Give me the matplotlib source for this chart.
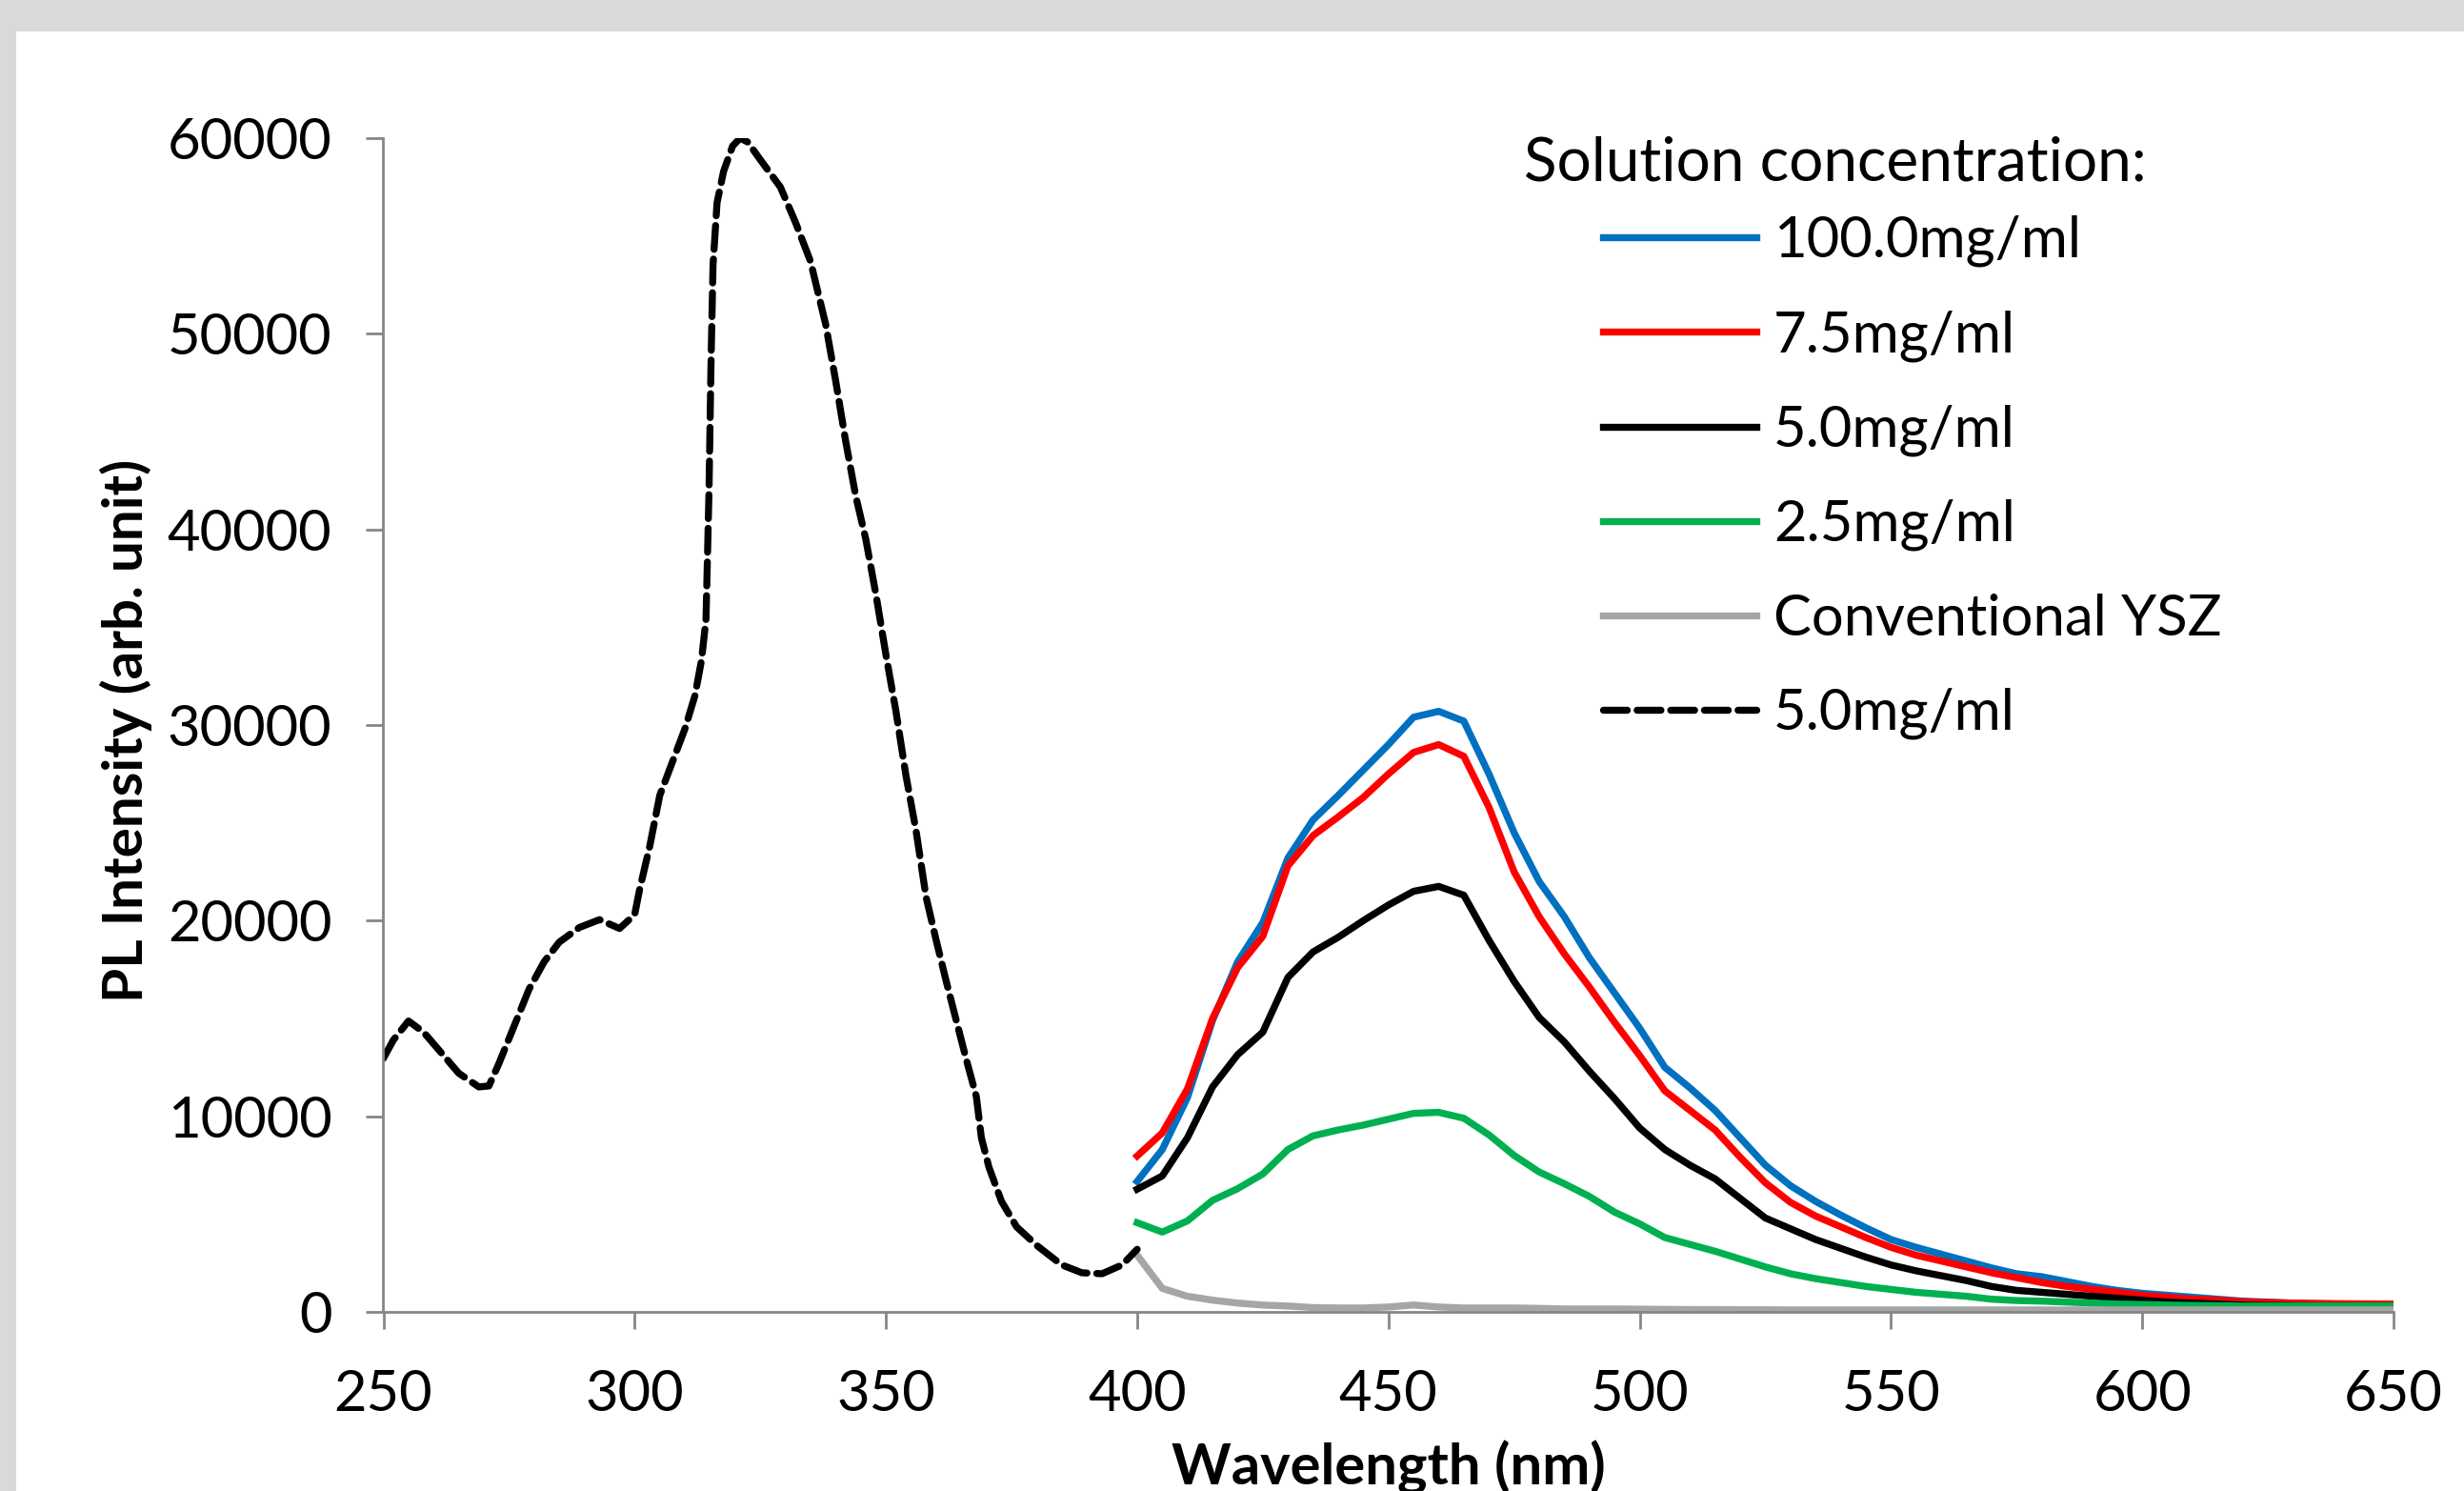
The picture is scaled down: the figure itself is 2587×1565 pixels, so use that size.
import matplotlib
matplotlib.use("Agg")
import matplotlib.pyplot as plt
from matplotlib.patches import Rectangle

plt.rcParams['font.family'] = ['Lato', 'DejaVu Sans']

# excitation spectrum (dashed)
ex_wl = [250, 252, 255, 258, 261, 265, 269, 271, 273, 276, 279, 282, 285, 289, 293, 297,
         300, 301, 303, 305, 307.5, 310, 312, 313.3, 314.2, 314.8, 315.2, 315.6, 316.4,
         317.7, 319.5, 321, 322.5, 325, 329, 332, 335, 338, 340, 342, 344, 346, 348, 350,
         352, 354, 356, 358, 360, 362, 364, 366, 368, 369, 370.5, 373, 376, 380, 385, 389,
         393, 397, 400]
ex_int = [12960, 13900, 14870, 14300, 13400, 12200, 11500, 11550, 12700, 14600, 16500,
          17900, 18900, 19650, 20050, 19600, 20300, 21600, 23800, 26400, 28100, 29800,
          31500, 33300, 35400, 42000, 48500, 53500, 56700, 58300, 59600, 60000, 59800,
          58900, 57500, 55700, 53700, 50500, 47600, 44500, 41700, 39500, 36700, 33600,
          30700, 27400, 24600, 21200, 19000, 16900, 14900, 12900, 11000, 8900, 7400, 5650,
          4350, 3400, 2400, 2000, 1950, 2400, 3200]

# emission spectra, 400-650 nm every 5 nm
em_wl = list(range(400, 655, 5))
c100 = [6670, 8300, 10950, 14900, 17900, 19900, 23200, 25150, 26400, 27700, 29000, 30400,
        30700, 30200, 27500, 24500, 22000, 20200, 18100, 16300, 14500, 12500, 11450, 10300,
        8900, 7500, 6450, 5650, 4950, 4300, 3700, 3300, 2950, 2600, 2250, 1950, 1800, 1550,
        1300, 1100, 950, 850, 750, 650, 550, 500, 450, 420, 400, 380, 380]
c75 = [7970, 9150, 11400, 15000, 17600, 19200, 22800, 24350, 25300, 26300, 27500, 28600,
       29000, 28400, 25800, 22500, 20200, 18300, 16600, 14800, 13100, 11300, 10300, 9300,
       7900, 6600, 5600, 4900, 4350, 3800, 3300, 2900, 2600, 2300, 2000, 1750, 1500, 1300,
       1150, 1000, 850, 750, 650, 600, 520, 480, 450, 430, 420, 410, 400]
c50 = [6270, 6950, 8900, 11500, 13150, 14300, 17100, 18400, 19150, 20000, 20800, 21500,
       21750, 21300, 19000, 16900, 15050, 13800, 12300, 10900, 9400, 8300, 7500, 6800,
       5800, 4800, 4250, 3700, 3250, 2800, 2400, 2100, 1850, 1600, 1300, 1100, 1000, 900,
       800, 700, 600, 500, 450, 400, 350, 330, 320, 310, 300, 300, 300]
c25 = [4560, 4080, 4650, 5700, 6300, 7050, 8300, 9000, 9300, 9550, 9850, 10150, 10200,
       9900, 9050, 8000, 7150, 6550, 5900, 5100, 4500, 3800, 3450, 3100, 2700, 2300, 1950,
       1700, 1500, 1300, 1150, 1000, 900, 800, 650, 580, 550, 500, 450, 400, 380, 350, 330,
       320, 300, 300, 300, 300, 300, 300, 300]
ysz = [2900, 1200, 800, 600, 450, 350, 300, 220, 200, 200, 250, 350, 250, 200, 200, 200,
       180, 150, 150, 150, 140, 130, 120, 120, 110, 110, 100, 100, 100, 100, 100, 100, 100,
       100, 100, 100, 100, 100, 100, 100, 100, 100, 100, 100, 100, 100, 100, 100, 100, 100,
       100]

labels = ["100.0mg/ml", "7.5mg/ml", "5.0mg/ml", "2.5mg/ml", "Conventional YSZ", "5.0mg/ml"]
colors = ["#0070C0", "#FF0000", "#000000", "#00B050", "#A6A6A6"]

W, H = 2587, 1565
fig = plt.figure(figsize=(W / 100, H / 100), dpi=100, facecolor="#d9d9d9")
fig.patches.append(Rectangle((17 / W, -0.1), 1.1, 1 - 33 / H + 0.1,
                             transform=fig.transFigure, facecolor="white",
                             edgecolor="none", zorder=-10))

ax = fig.add_axes([402.5 / W, 1 - 1377 / H, (2513 - 402.5) / W, (1377 - 145) / H])
ax.set_facecolor("white")

fs = 43
lw = 5.3
for ys, col, lab in zip([c100, c75, c50, c25, ysz], colors, labels[:5]):
    ax.plot(em_wl, ys, color=col, lw=lw, label=lab, solid_joinstyle="round")
ax.plot(ex_wl, ex_int, color="black", lw=lw, dashes=(3.4, 1.4), label=labels[5],
        dash_capstyle="round")

ax.set_xlim(250, 650)
ax.set_ylim(0, 60000)
ax.set_xticks(range(250, 651, 50))
ax.set_yticks(range(0, 60001, 10000))

for s in ["top", "right"]:
    ax.spines[s].set_visible(False)
for s in ["left", "bottom"]:
    ax.spines[s].set_color("#868686")
    ax.spines[s].set_linewidth(2)
ax.tick_params(axis="both", direction="out", length=13, width=2, color="#868686",
               labelsize=fs, labelcolor="black")
ax.tick_params(axis="x", pad=30)
ax.tick_params(axis="y", pad=26)

ax.set_xlabel("Wavelength (nm)", fontsize=fs, fontweight="bold", va="center")
ax.xaxis.set_label_coords(0.5, -(1540 - 1377) / 1232)
ax.set_ylabel("PL Intensity (arb. unit)", fontsize=42, fontweight="bold", va="center")
ax.yaxis.set_label_coords((132 - 402.5) / (2513 - 402.5), 0.495)

fig.text(1600 / W, 1 - 172 / H, "Solution concentration:", fontsize=46, va="center",
         ha="left")
ax.legend(loc="upper left", bbox_to_anchor=(1683 / W, 1 - 226 / H),
          bbox_transform=fig.transFigure, frameon=False, fontsize=fs,
          handlelength=2.7, handletextpad=0.3, labelspacing=0.75, borderpad=0,
          borderaxespad=0)

fig.savefig("out.png", dpi=100, facecolor=fig.get_facecolor())
